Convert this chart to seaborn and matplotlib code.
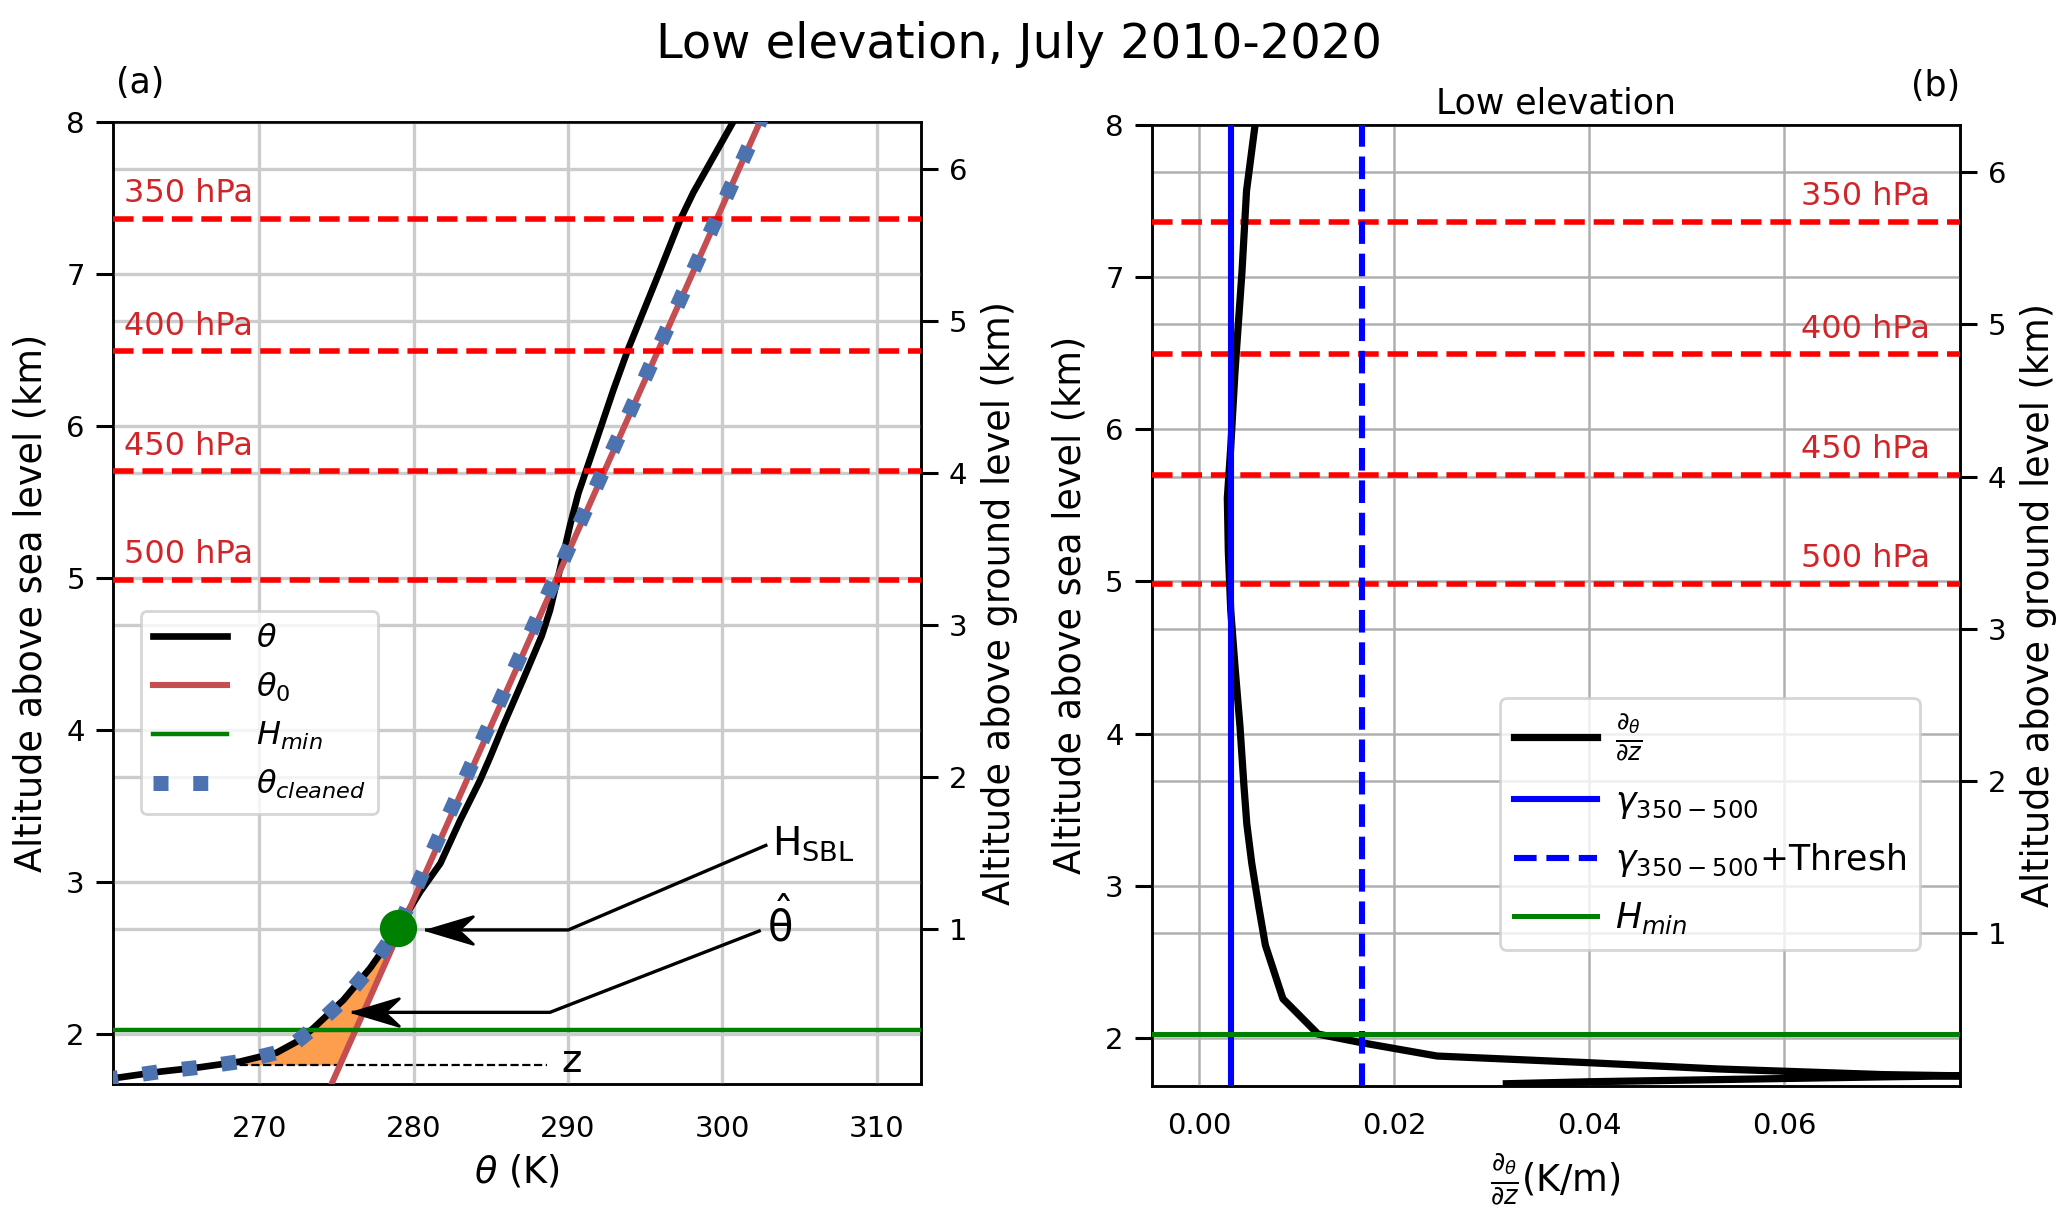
import numpy as np
import matplotlib
matplotlib.use("Agg")
import matplotlib.pyplot as plt
from matplotlib.path import Path
import seaborn as sns

# theta profile, altitude above sea level (km) / potential temperature (K)
z_theta = [1.690, 1.709, 1.753, 1.782, 1.819, 1.878, 1.950, 2.038, 2.224, 2.433,
           2.619, 2.700, 2.937, 3.123, 3.408, 3.669, 3.820, 4.031, 4.333, 4.620,
           4.786, 5.059, 5.345, 5.556, 5.782, 6.236, 6.508, 7.021, 7.353, 7.534,
           8.000, 8.200]
theta = [259.90, 260.53, 263.56, 266.15, 268.74, 271.12, 272.42, 273.49, 275.44, 277.17,
         278.46, 279.00, 280.43, 281.73, 283.02, 284.30, 284.95, 285.81, 287.10, 288.30,
         288.83, 289.48, 290.13, 290.67, 291.43, 292.94, 293.91, 295.96, 297.26, 298.12,
         300.71, 301.80]

# theta_0 reference line (end points)
z_theta0 = [1.60, 8.20]
theta0 = [274.36, 303.32]

# vertical gradient of theta (K/m)
z_grad = [1.700, 1.713, 1.745, 1.752, 1.760, 1.797, 1.838, 1.882, 1.969, 2.026,
          2.258, 2.610, 2.870, 3.150, 3.405, 3.660, 4.045, 4.430, 4.810, 5.200,
          5.547, 5.880, 6.390, 7.030, 7.565, 8.000, 8.200]
grad = [0.0315, 0.0400, 0.0701, 0.0781, 0.0701, 0.0532, 0.0400, 0.0244, 0.0167, 0.0122,
        0.0086, 0.0068, 0.0061, 0.0054, 0.0049, 0.0046, 0.0042, 0.0037, 0.00325, 0.0030,
        0.0029, 0.00325, 0.0037, 0.0044, 0.00487, 0.00575, 0.0062]

p_levels = [350, 400, 450, 500]
z_levels = [7.36, 6.49, 5.70, 4.985]

ground = 1.688
H_SBL = 2.70
theta_hat = 279.0
H_min = 2.026
z_bottom = 1.797
gamma = 0.00332
gamma_thresh = 0.01670

# cleaned profile: theta below H_SBL, theta_0 above
k = z_theta.index(H_SBL) + 1
z_clean = z_theta[:k] + [z_theta0[-1]]
theta_clean = theta[:k] + [theta0[-1]]

plt.rcParams['font.family'] = ['DejaVu Sans']
plt.rcParams['axes.edgecolor'] = 'black'
plt.rcParams['axes.linewidth'] = 0.9

fig = plt.figure(figsize=(10.335, 6.1), dpi=200)
ax1 = fig.add_axes([0.0545, 0.1115, 0.3911, 0.7887])
ax3 = fig.add_axes([0.5571, 0.1102, 0.3911, 0.7877])

# arrow head with notch, tip at the data point
head = Path([(0, 0), (1, 0.3), (0.68, 0), (1, -0.3), (0, 0)],
            [Path.MOVETO, Path.LINETO, Path.LINETO, Path.LINETO, Path.CLOSEPOLY])


def twin_axis(ax, ylim, grid_color, grid_lw):
    ax2 = ax.twinx()
    ax2.set_ylim(ylim[0] - ground, ylim[1] - ground)
    ax2.set_yticks(range(1, 7))
    ax2.grid(axis='y', color=grid_color, lw=grid_lw)
    ax2.tick_params(axis='y', length=6, width=1.1, labelsize=10.5, pad=4)
    ax2.set_ylabel("Altitude above ground level (km)", fontsize=13.2, labelpad=5)
    ax.set_zorder(ax2.get_zorder() + 1)
    ax.patch.set_visible(False)
    return ax2


def pressure_lines(ax, x_text, ha):
    for p, zl in zip(p_levels, z_levels):
        ax.axhline(zl, color='red', ls='--', lw=2, zorder=3)
        ax.text(x_text, zl + 0.11, f"{p} hPa", color='#d0262a', fontsize=11.5,
                ha=ha, va='baseline')


def pointer(ax, start, corner, tip):
    ax.plot([start[0], corner[0], tip[0]], [start[1], corner[1], tip[1]],
            color='black', lw=1.2, zorder=6)
    ax.plot([tip[0]], [tip[1]], marker=head, ms=33, color='black', ls='', zorder=6)


# ---------------- (a) theta profile
ylim1 = (1.672, 8)
ax1.set_xlim(260.49, 312.88)
ax1.set_ylim(*ylim1)
ax1.set_axisbelow(True)
ax1.grid(True, color='#cccccc', lw=1.2)
ax1b = twin_axis(ax1, ylim1, '#cccccc', 1.2)

zf = np.array([z_bottom] + [z for z in z_theta if z_bottom < z < H_SBL] + [H_SBL])
ax1.fill_betweenx(zf, np.interp(zf, z_theta, theta), np.interp(zf, z_theta0, theta0),
                  color='#fd9e4f', lw=0, zorder=1)
ax1.hlines(z_bottom, np.interp(z_bottom, z_theta, theta), 288.62, color='black',
           ls='--', lw=0.8, zorder=2)

sns.lineplot(x=theta, y=z_theta, orient='y', estimator=None, color='black', lw=2.4,
             label=r'$\theta$', ax=ax1, zorder=3)
sns.lineplot(x=theta0, y=z_theta0, orient='y', estimator=None, color='#c44e52', lw=2.2,
             label=r'$\theta_0$', ax=ax1, zorder=3)
l_hmin = ax1.axhline(H_min, color='green', lw=1.6, label=r'$H_{min}$', zorder=3)
sns.lineplot(x=theta_clean, y=z_clean, orient='y', estimator=None, color='#4c72b0',
             lw=5.4, ls=':', label=r'$\theta_{cleaned}$', ax=ax1, zorder=4)
sns.scatterplot(x=[theta_hat], y=[H_SBL], s=180, color='green', linewidth=0,
                ax=ax1, zorder=5, legend=False)
pressure_lines(ax1, 261.2, 'left')

pointer(ax1, (302.82, 3.241), (290.02, 2.685), (280.84, 2.685))
pointer(ax1, (302.39, 2.678), (288.83, 2.143), (276.09, 2.143))
ax1.text(303.25, 3.177, r'H$_{\mathrm{SBL}}$', fontsize=14, ha='left', va='baseline')
ax1.text(302.9, 2.612, r'$\hat{\mathrm{\theta}}$', fontsize=15, ha='left', va='baseline')
ax1.text(289.6, 1.753, 'z', fontsize=14, ha='left', va='baseline')

ax1.set_xticks([270, 280, 290, 300, 310])
ax1.set_yticks([2, 3, 4, 5, 6, 7, 8])
ax1.tick_params(axis='x', length=0, labelsize=10.5, pad=11)
ax1.tick_params(axis='y', length=6, width=1.1, labelsize=10.5, pad=4)
ax1.set_xlabel(r'$\theta$ (K)', fontsize=13.2, labelpad=4)
ax1.set_ylabel("Altitude above sea level (km)", fontsize=13.2, labelpad=6)
h, l = ax1.get_legend_handles_labels()
ax1.legend(h, l, loc='lower left', bbox_to_anchor=(0.0345, 0.2803), borderaxespad=0,
           fontsize=11.5, handlelength=2.3, handletextpad=0.9, labelspacing=0.5)
ax1.text(0.004, 1.03, '(a)', transform=ax1.transAxes, fontsize=12.5, ha='left',
         va='baseline')

# ---------------- (b) theta gradient
ylim3 = (1.688, 8)
ax3.set_xlim(-0.00487, 0.0780)
ax3.set_ylim(*ylim3)
ax3.set_axisbelow(True)
ax3.grid(True, color='#b0b0b0', lw=0.9)
ax3b = twin_axis(ax3, ylim3, '#b0b0b0', 0.9)

pressure_lines(ax3, 0.0749, 'right')
sns.lineplot(x=grad, y=z_grad, orient='y', estimator=None, sort=False, color='black',
             lw=2.6, label=r'$\frac{\partial_\theta}{\partial z}$', ax=ax3, zorder=3)
ax3.axvline(gamma, color='blue', lw=2.2, label=r'$\gamma_{350-500}$', zorder=4)
ax3.axvline(gamma_thresh, color='blue', lw=2.2, ls='--',
            label=r'$\gamma_{350-500}$+Thresh', zorder=4)
ax3.axhline(H_min, color='green', lw=1.8, label=r'$H_{min}$', zorder=4)

ax3.set_xticks([0.00, 0.02, 0.04, 0.06])
ax3.set_xticklabels([f"{v:.2f}" for v in [0.00, 0.02, 0.04, 0.06]])
ax3.set_yticks([2, 3, 4, 5, 6, 7, 8])
ax3.tick_params(axis='x', length=0, labelsize=10.5, pad=9.5)
ax3.tick_params(axis='y', length=6, width=1.1, labelsize=10.5, pad=4)
ax3.set_xlabel(r'$\frac{\partial_\theta}{\partial z}$(K/m)', fontsize=13.2, labelpad=4)
ax3.set_ylabel("Altitude above sea level (km)", fontsize=13.2, labelpad=6)
h, l = ax3.get_legend_handles_labels()
ax3.legend(h, l, loc='lower left', bbox_to_anchor=(0.431, 0.141), borderaxespad=0,
           fontsize=12.5, handlelength=2.4, handletextpad=0.5, labelspacing=0.6)
ax3.set_title('Low elevation', fontsize=12.5, pad=4)
ax3.text(1.0, 1.03, '(b)', transform=ax3.transAxes, fontsize=12.5, ha='right',
         va='baseline')

fig.text(0.4929, 0.9521, 'Low elevation, July 2010-2020', fontsize=17.3, ha='center',
         va='baseline')

fig.savefig('out.png', dpi=200)
